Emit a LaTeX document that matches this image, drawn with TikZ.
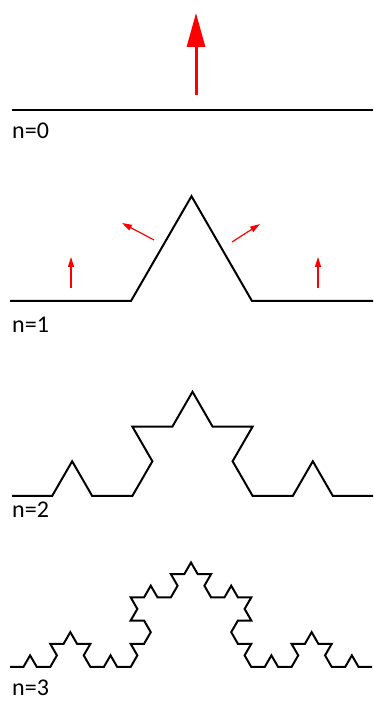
\documentclass[tikz,border=0pt]{standalone}
\usepackage{fontspec}
\setmainfont{Carlito}
\usetikzlibrary{arrows.meta, decorations.fractals}

\begin{document}
\begin{tikzpicture}[x=1pt, y=1pt,
  kochline/.style={line width=2pt, black, decoration=Koch snowflake},
  bigarrow/.style={-{Triangle[length=34pt, width=18pt]}, line width=3pt, red},
  smallarrow/.style={-{Triangle[length=10pt, width=6pt]}, line width=1.2pt, red},
  levellabel/.style={anchor=base west, inner sep=0pt, font=\fontsize{24}{28}\selectfont}]
  \useasboundingbox (0,0) rectangle (374,702);

  % n=0
  \draw[kochline] (12,592) -- (373,592);
  \coordinate (a0s) at (196,607);
  \coordinate (a0e) at (196,689);
  \draw[bigarrow] (a0s) -- (a0e);
  \node[levellabel] (lab0) at (12,563) {n=0};

  % n=1
  \draw[kochline] decorate{(10,401) -- (373,401)};
  \coordinate (a1s) at (71,414);  \coordinate (a1e) at (71,445);
  \coordinate (a2s) at (154,462); \coordinate (a2e) at (122,479);
  \coordinate (a3s) at (232,460); \coordinate (a3e) at (260,478);
  \coordinate (a4s) at (318,414); \coordinate (a4e) at (318,445);
  \foreach \i in {1,...,4}
    \draw[smallarrow] (a\i s) -- (a\i e);
  \node[levellabel] (lab1) at (12,369) {n=1};

  % n=2
  \draw[kochline] decorate{decorate{(12,206) -- (373,206)}};
  \node[levellabel] (lab2) at (12,184) {n=2};

  % n=3
  \draw[kochline] decorate{decorate{decorate{(10,35) -- (372,35)}}};
  \node[levellabel] (lab3) at (12,6) {n=3};
\end{tikzpicture}
\end{document}
